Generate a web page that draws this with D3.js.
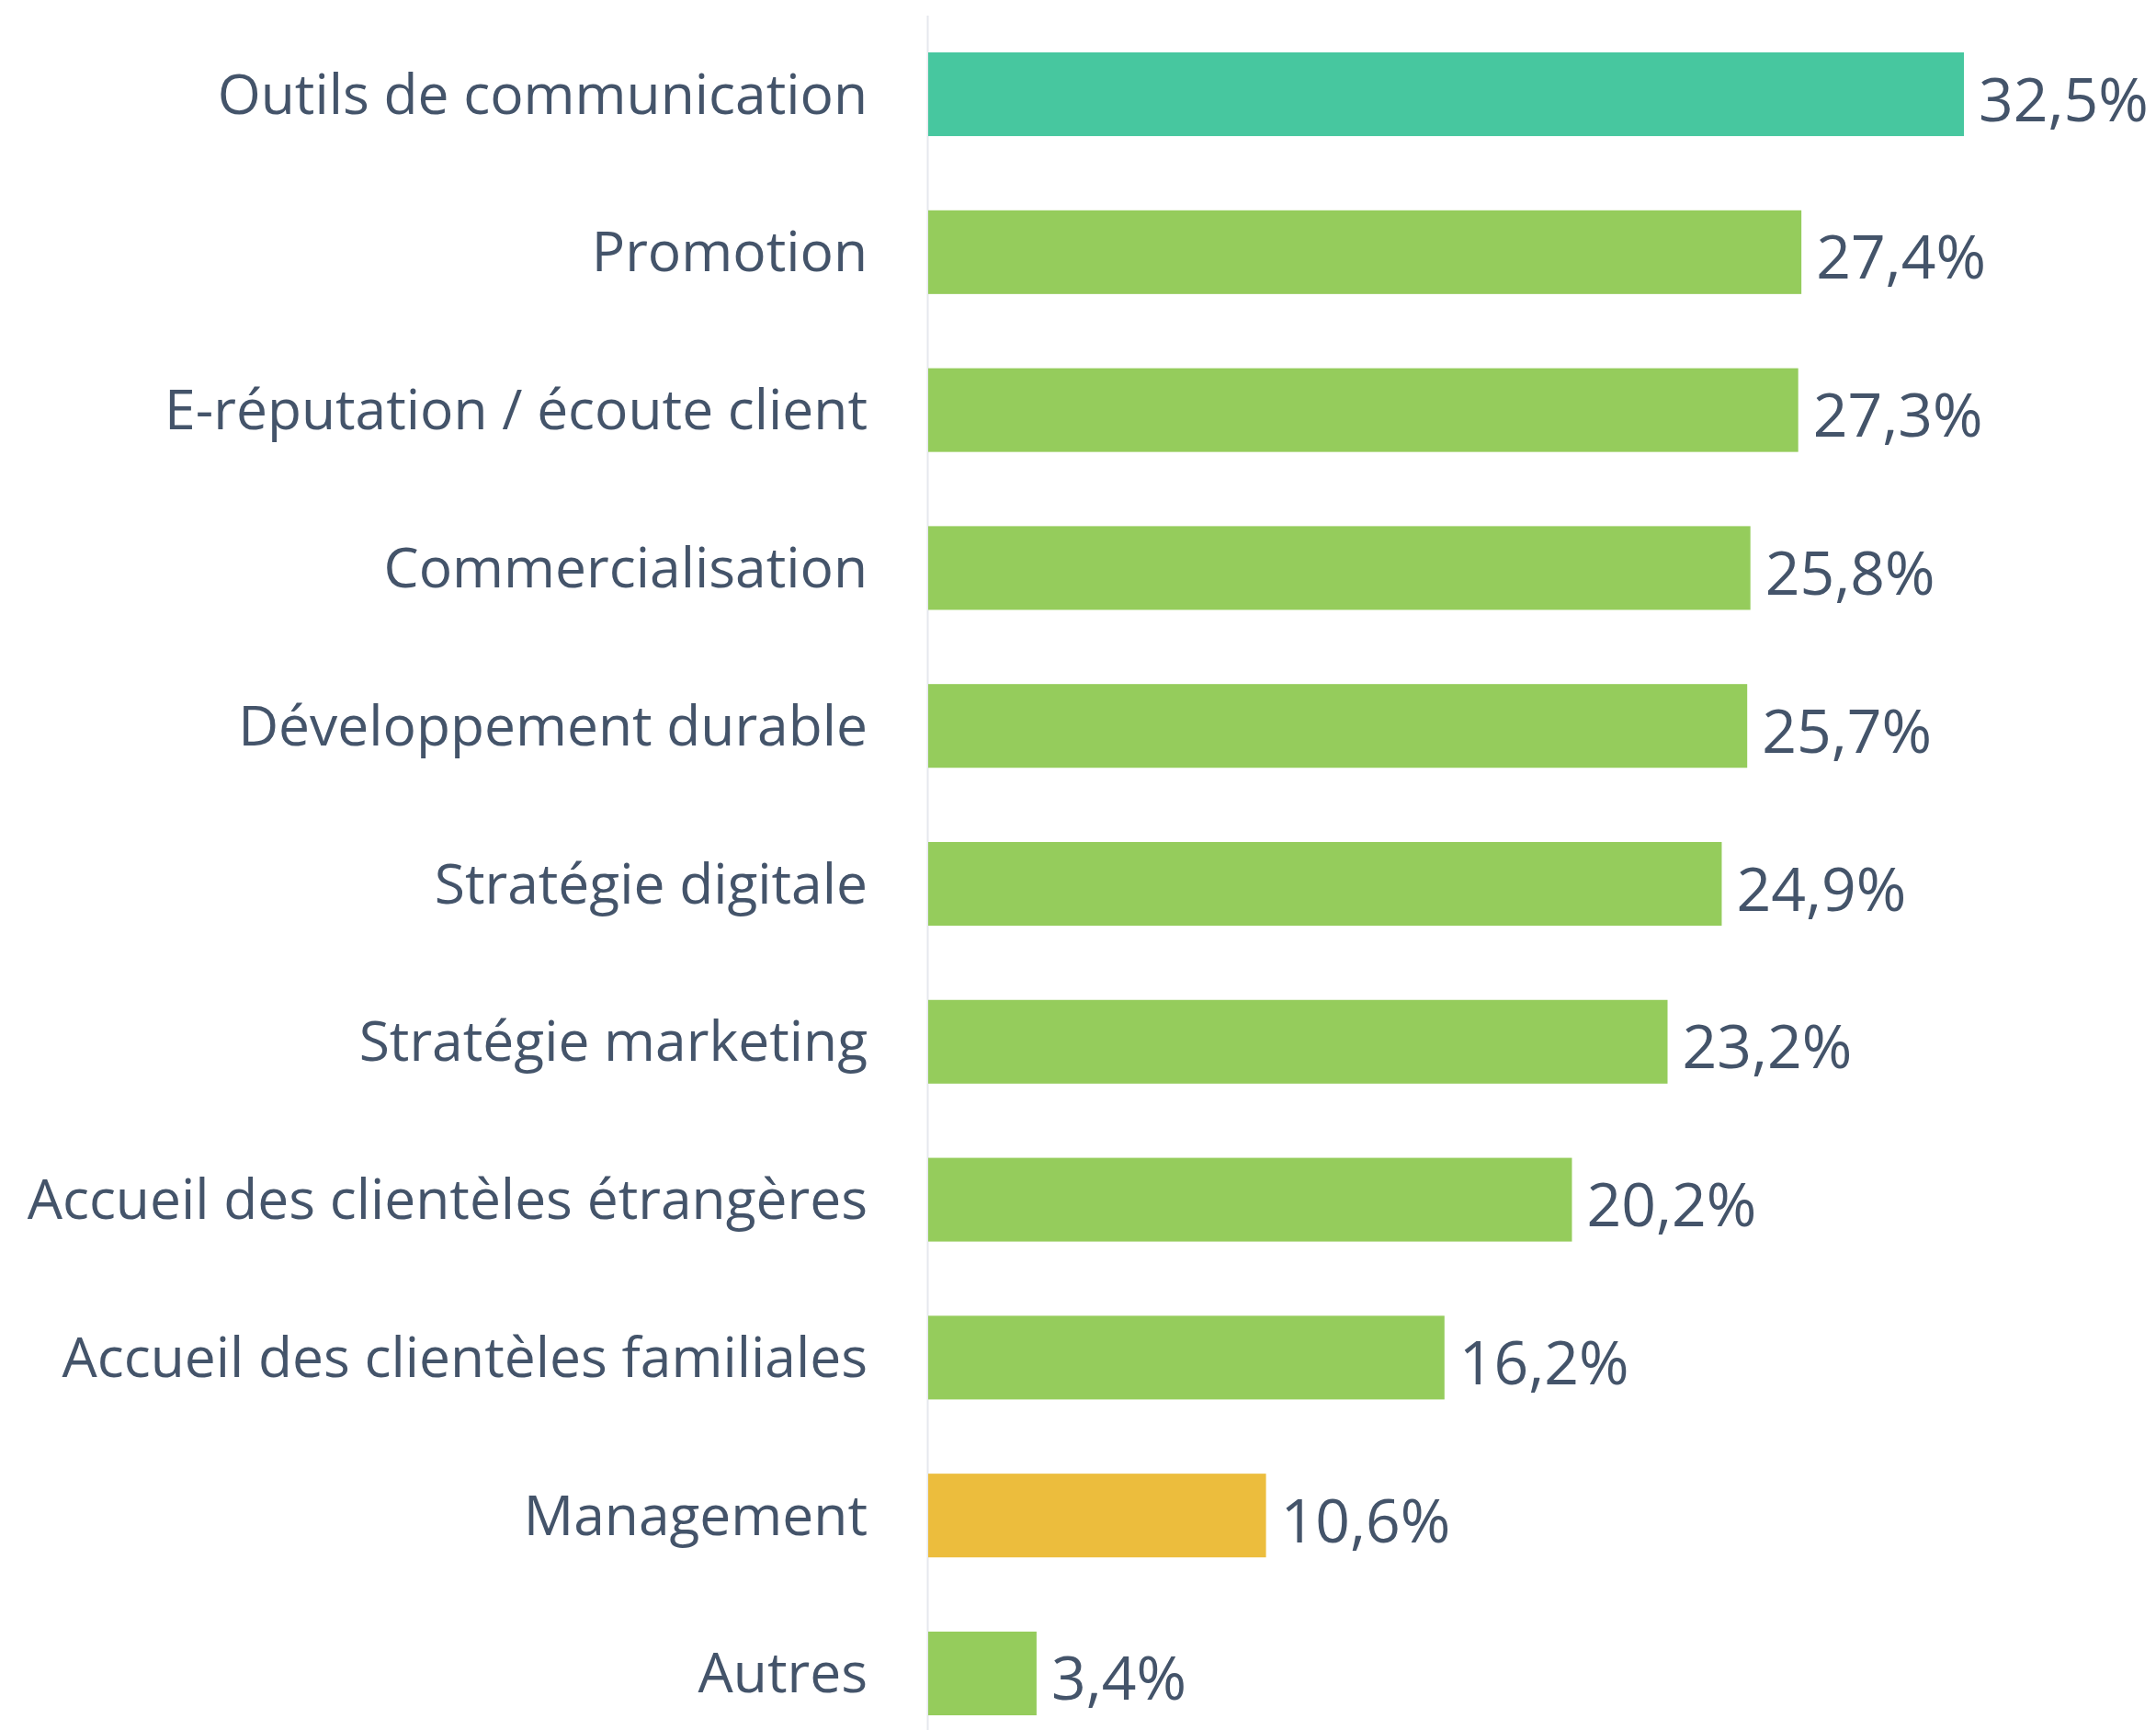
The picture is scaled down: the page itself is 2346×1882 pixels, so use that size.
<!DOCTYPE html>
<html><head><meta charset="utf-8">
<script src="https://cdn.jsdelivr.net/npm/d3@7"></script>
<style>
html,body{margin:0;padding:0;background:#fff;}
svg{display:block;}
</style></head>
<body>
<script>
const categories = ["Outils de communication","Promotion","E-réputation / écoute client","Commercialisation","Développement durable","Stratégie digitale","Stratégie marketing","Accueil des clientèles étrangères","Accueil des clientèles familiales","Management","Autres"];
const values = [32.5,27.4,27.3,25.8,25.7,24.9,23.2,20.2,16.2,10.6,3.4];
const valueLabels = ["32,5%","27,4%","27,3%","25,8%","25,7%","24,9%","23,2%","20,2%","16,2%","10,6%","3,4%"];
const barColors = ["#47C79F","#95CC5C","#95CC5C","#95CC5C","#95CC5C","#95CC5C","#95CC5C","#95CC5C","#95CC5C","#ECBD3D","#95CC5C"];

const W = 2346, H = 1882;
const textColor = "#44546A";
const svg = d3.select("body").append("svg").attr("width", W).attr("height", H);

const x = d3.scaleLinear().domain([0, d3.max(values)]).range([1010, 2137]);
const y = d3.scaleBand().domain(categories).range([57, 1866]).paddingInner(0.47).paddingOuter(0);

svg.append("line").attr("x1",1009.5).attr("x2",1009.5).attr("y1",17).attr("y2",H)
  .attr("stroke","#E6E8EE").attr("stroke-width",2);

const data = categories.map((c,i)=>({c, v:values[i], l:valueLabels[i], col:barColors[i]}));

svg.selectAll("rect.bar").data(data).join("rect").attr("class","bar")
  .attr("x", x(0)).attr("y", d=>y(d.c)).attr("width", d=>x(d.v)-x(0)).attr("height", y.bandwidth())
  .attr("fill", d=>d.col);

svg.selectAll("text.cat").data(data).join("text").attr("class","cat")
  .attr("x", 944).attr("y", d=>y(d.c)+y.bandwidth()/2+21)
  .attr("text-anchor","end").attr("fill",textColor)
  .style("font-family","'Open Sans', sans-serif").style("font-size","60.5px")
  .text(d=>d.c);

svg.selectAll("text.val").data(data).join("text").attr("class","val")
  .attr("x", d=>x(d.v)+16).attr("y", d=>y(d.c)+y.bandwidth()/2+29)
  .attr("fill",textColor)
  .style("font-family","'Open Sans', sans-serif").style("font-size","66px")
  .text(d=>d.l);
</script>
</body></html>
